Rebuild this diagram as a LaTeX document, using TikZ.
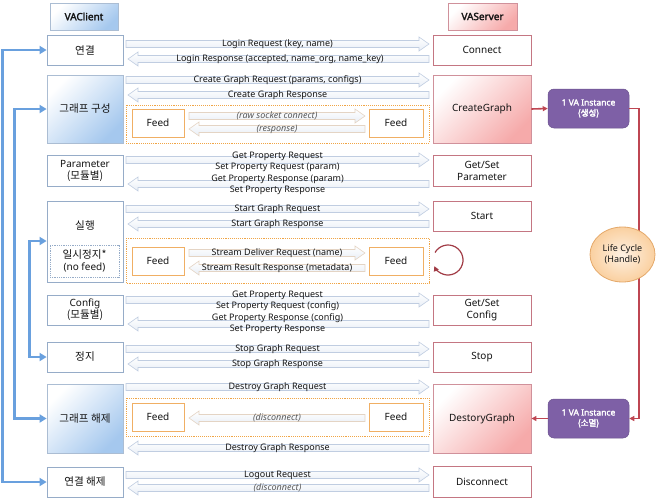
\documentclass[tikz,border=0pt]{standalone}
\usepackage{fontspec}
\setmainfont{Noto Sans}
\newfontfamily\kr{Noto Sans CJK KR}[Scale=1.06]
\newfontfamily\hb{Noto Sans}[FakeBold=2.2]
\newfontfamily\krb{Noto Sans CJK KR}[FakeBold=2.5]
\usetikzlibrary{calc,shadows,arrows.meta,shapes.geometric}
\definecolor{cliB}{RGB}{150,172,200}
\definecolor{cliG}{RGB}{165,200,238}
\definecolor{srvB}{RGB}{196,118,130}
\definecolor{srvG}{RGB}{246,170,170}
\definecolor{feedB}{RGB}{240,175,100}
\definecolor{dotO}{RGB}{240,165,70}
\definecolor{arrB}{RGB}{192,205,225}
\definecolor{arrF}{RGB}{232,238,246}
\definecolor{farrB}{RGB}{228,212,196}
\definecolor{vaP}{RGB}{126,96,166}
\definecolor{redL}{RGB}{190,70,82}
\definecolor{bluL}{RGB}{105,160,222}
\definecolor{lifeB}{RGB}{228,168,105}
\definecolor{lifeF}{RGB}{250,208,160}
\definecolor{txt}{RGB}{20,20,20}
\newcommand\RArr[4][blockarr]{\draw[#1] (#2,#4-3.5) -- (#3-10,#4-3.5) -- (#3-10,#4-7) -- (#3,#4) -- (#3-10,#4+7) -- (#3-10,#4+3.5) -- (#2,#4+3.5) -- cycle;}
\newcommand\LArr[4][blockarr]{\draw[#1] (#3,#4-3.5) -- (#2+10,#4-3.5) -- (#2+10,#4-7) -- (#2,#4) -- (#2+10,#4+7) -- (#2+10,#4+3.5) -- (#3,#4+3.5) -- cycle;}
\begin{document}
\begin{tikzpicture}[x=1pt,y=-1pt,
  box/.style={draw, line width=0.8pt, inner sep=0pt, align=center, text=txt,
     font=\fontsize{10}{12}\selectfont},
  cbox/.style={box, draw=cliB, fill=white},
  cgrad/.style={box, draw=cliB!80, top color=white, bottom color=cliG, shading angle=45,
     drop shadow={opacity=0.25, shadow xshift=1.2pt, shadow yshift=-1.2pt}},
  sbox/.style={box, draw=srvB, fill=white},
  sgrad/.style={box, draw=srvB!80, top color=white, bottom color=srvG, shading angle=45,
     drop shadow={opacity=0.25, shadow xshift=1.2pt, shadow yshift=-1.2pt}},
  feedbox/.style={box, draw=feedB, fill=white, minimum height=28pt},
  dotbox/.style={draw=dotO, densely dotted, line width=0.9pt},
  blockarr/.style={draw=arrB, line width=0.6pt, top color=white, bottom color=arrF},
  feedarr/.style={draw=farrB, line width=0.6pt, top color=white, bottom color=arrF},
  lbl/.style={inner sep=0pt, text=txt, font=\fontsize{9}{10}\selectfont},
  ilbl/.style={inner sep=0pt, text=black!65, font=\fontsize{9}{10}\selectfont\itshape},
  bl/.style={draw=bluL, line width=2.6pt, {Triangle[length=7pt,width=8pt]}-{Triangle[length=7pt,width=8pt]}},
  rl/.style={draw=redL, line width=1.6pt, -{Triangle[length=5pt,width=5pt]}},
  vabox/.style={fill=vaP, draw=vaP!85!black, line width=0.5pt, rounded corners=6pt, text=white, align=center,
     minimum width=81pt, minimum height=39pt, inner sep=0pt, font=\fontsize{8.5}{10.5}\selectfont\hb}
]
\useasboundingbox (0,0) rectangle (660,501);

% headers
\node[cgrad, minimum width=68pt, minimum height=27pt, font=\fontsize{10}{12}\selectfont\hb] (hdrC) at (84,16.5) {VAClient};
\node[sgrad, minimum width=69pt, minimum height=27pt, font=\fontsize{10}{12}\selectfont\hb] (hdrS) at (482.5,16.5) {VAServer};

% client boxes
\node[cbox, minimum width=76pt, minimum height=30pt] (cConn) at (85,50) {\kr 연결};
\node[cgrad, minimum width=76pt, minimum height=68pt] (cGraph) at (85,109) {\kr 그래프 구성};
\node[cbox, minimum width=76pt, minimum height=31pt] (cParam) at (85,170.5) {Parameter\\{\kr (모듈별)}};
\node[cbox, minimum width=76pt, minimum height=81pt] (cRun) at (85,241.5) {};
\node[lbl, font=\fontsize{10}{12}\selectfont] (tRun) at (85,226) {\kr 실행};
\node[box, draw=cliB, densely dotted, line width=0.9pt, minimum width=69pt, minimum height=32pt] (cPause) at (84.5,261) {{\kr 일시정지*}\\(no feed)};
\node[cbox, minimum width=76pt, minimum height=30pt] (cConfig) at (85,310) {Config\\{\kr (모듈별)}};
\node[cbox, minimum width=76pt, minimum height=30pt] (cStop) at (85,357) {\kr 정지};
\node[cgrad, minimum width=76pt, minimum height=69pt] (cDel) at (85,418.5) {\kr 그래프 해제};
\node[cbox, minimum width=76pt, minimum height=30pt] (cDisc) at (85,482) {\kr 연결 해제};

% server boxes
\node[sbox, minimum width=98pt, minimum height=30pt] (sConn) at (482,50) {Connect};
\node[sgrad, minimum width=98pt, minimum height=68pt] (sGraph) at (482,109) {CreateGraph};
\node[sbox, minimum width=98pt, minimum height=31pt] (sParam) at (482,170.5) {Get/Set\\Parameter};
\node[sbox, minimum width=98pt, minimum height=30pt] (sStart) at (482,216) {Start};
\node[sbox, minimum width=98pt, minimum height=30pt] (sConfig) at (482,310) {Get/Set\\Config};
\node[sbox, minimum width=98pt, minimum height=30pt] (sStop) at (482,357) {Stop};
\node[sgrad, minimum width=98pt, minimum height=69pt] (sDel) at (482,418.5) {DestoryGraph};
\node[sbox, minimum width=98pt, minimum height=31pt] (sDisc) at (482,481.5) {Disconnect};

% feed regions
\draw[dotbox] (126,105) rectangle (429,143);
\draw[dotbox] (126,238) rectangle (429,283);
\draw[dotbox] (126,398) rectangle (429,436);
\node[feedbox, minimum width=52pt] (fL1) at (158,123) {Feed};
\node[feedbox, minimum width=54pt] (fR1) at (396,123) {Feed};
\node[feedbox, minimum width=52pt] (fL2) at (158,261) {Feed};
\node[feedbox, minimum width=54pt] (fR2) at (396,261) {Feed};
\node[feedbox, minimum width=52pt] (fL3) at (158,417) {Feed};
\node[feedbox, minimum width=54pt] (fR3) at (396,417) {Feed};

% block arrows
\RArr{126}{429}{44}  \LArr{128}{429}{59}
\RArr{126}{429}{80}  \LArr{128}{429}{95}
\RArr[feedarr]{189}{365}{116} \LArr[feedarr]{189}{365}{129}
\RArr{126}{429}{160} \LArr{128}{429}{184}
\RArr{126}{429}{209} \LArr{128}{429}{224}
\RArr[feedarr]{189}{365}{253} \LArr[feedarr]{189}{365}{268}
\RArr{126}{429}{300} \LArr{128}{429}{324}
\RArr{126}{429}{349} \LArr{128}{429}{364}
\RArr{126}{429}{387}
\LArr[feedarr]{189}{365}{418}
\LArr{128}{429}{448}
\RArr{126}{429}{475} \LArr{128}{429}{488}

% arrow labels
\node[lbl] (l1) at (277.5,44) {Login Request (key, name)};
\node[lbl] (l2) at (280,59) {Login Response (accepted, name\_org, name\_key)};
\node[lbl] (l3) at (277.5,80) {Create Graph Request (params, configs)};
\node[lbl] (l4) at (277.5,95) {Create Graph Response};
\node[ilbl] (l5) at (277,116) {(raw socket connect)};
\node[ilbl] (l6) at (277,129) {(response)};
\node[lbl] (l7) at (277.5,156) {Get Property Request};
\node[lbl] (l8) at (277.5,167) {Set Property Request (param)};
\node[lbl] (l9) at (277.5,179) {Get Property Response (param)};
\node[lbl] (l10) at (277.5,190) {Set Property Response};
\node[lbl] (l11) at (277.5,209) {Start Graph Request};
\node[lbl] (l12) at (277.5,224) {Start Graph Response};
\node[lbl] (l13) at (277,253) {Stream Deliver Request (name)};
\node[lbl] (l14) at (277,268) {Stream Result Response (metadata)};
\node[lbl] (l15) at (277.5,295) {Get Property Request};
\node[lbl] (l16) at (277.5,306) {Set Property Request (config)};
\node[lbl] (l17) at (277.5,318) {Get Property Response (config)};
\node[lbl] (l18) at (277.5,329) {Set Property Response};
\node[lbl] (l19) at (277.5,349) {Stop Graph Request};
\node[lbl] (l20) at (277.5,364) {Stop Graph Response};
\node[lbl] (l21) at (277.5,387) {Destroy Graph Request};
\node[ilbl] (l22) at (277,418) {(disconnect)};
\node[lbl] (l23) at (277.5,448) {Destroy Graph Response};
\node[lbl] (l24) at (277.5,475) {Logout Request};
\node[ilbl] (l25) at (277.5,488) {(disconnect)};

% blue lifecycle connectors on the left
\draw[bl] (cConn.west) -- ++(-44,0) |- (cDisc.west);
\draw[bl] (cGraph.west) -- ++(-32,0) |- (cDel.west);
\draw[bl] ($(cRun.west)+(0,-0.5)$) -- ++(-17,0) |- (cStop.west);

% VA instances and life cycle
\node[vabox] (vaC) at (588.5,108.5) {1 VA Instance\\{\krb (생성)}};
\node[vabox] (vaD) at (588.5,418.5) {1 VA Instance\\{\krb (소멸)}};
\draw[rl] (sGraph.east) -- (vaC.west);
\draw[rl] (vaC.east) -- ++(10,0) |- (vaD.east);
\draw[rl] (vaD.west) -- (sDel.east);
\node[ellipse, draw=lifeB, line width=0.8pt, inner color=white!70!lifeF, outer color=lifeF,
  minimum width=65pt, minimum height=55pt, inner sep=0pt, align=center, text=txt,
  font=\fontsize{9}{11}\selectfont] (life) at (622.5,254.5) {Life Cycle\\(Handle)};

% self loop on stream feed
\coordinate (lp) at (448,260);
\draw[draw=redL!85!black, line width=1.2pt, -{Triangle[length=5pt,width=5pt]}] ($(lp)+(150:15pt)$) arc[start angle=150, end angle=-156, radius=15pt];
\end{tikzpicture}
\end{document}
